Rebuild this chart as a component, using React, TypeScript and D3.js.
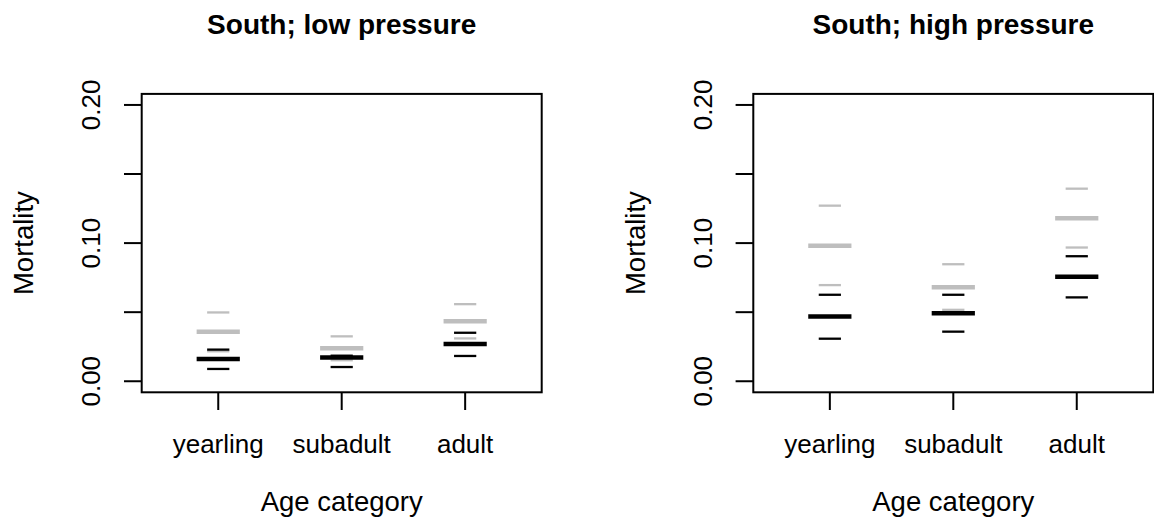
import React from "react";
import * as d3 from "d3";

const categories = ["yearling", "subadult", "adult"];
const panelTitles = ["South; low pressure", "South; high pressure"];
const yTicks = [0, 0.05, 0.1, 0.15, 0.2];
const yTickLabels = ["0.00", "", "0.10", "", "0.20"];

// low pressure
const lowGrayMid = [0.0359, 0.0238, 0.0435];
const lowGrayLo = [0.0217, 0.0152, 0.031];
const lowGrayHi = [0.0498, 0.0325, 0.0558];
const lowBlackMid = [0.0161, 0.0171, 0.027];
const lowBlackLo = [0.0089, 0.0103, 0.0183];
const lowBlackHi = [0.0229, 0.0185, 0.0351];

// high pressure
const highGrayMid = [0.098, 0.0681, 0.1179];
const highGrayLo = [0.0696, 0.0517, 0.0968];
const highGrayHi = [0.1271, 0.0847, 0.1394];
const highBlackMid = [0.0469, 0.0493, 0.0756];
const highBlackLo = [0.0308, 0.0359, 0.0607];
const highBlackHi = [0.0626, 0.0626, 0.0905];

const panels = [
  { title: panelTitles[0], grayMid: lowGrayMid, grayLo: lowGrayLo, grayHi: lowGrayHi, blackMid: lowBlackMid, blackLo: lowBlackLo, blackHi: lowBlackHi },
  { title: panelTitles[1], grayMid: highGrayMid, grayLo: highGrayLo, grayHi: highGrayHi, blackMid: highBlackMid, blackLo: highBlackLo, blackHi: highBlackHi },
];

const W = 1154;
const H = 530;
const boxLefts = [141.7, 753.3];
const boxW = 400;
const boxTop = 93.9;
const boxBottom = 392.3;
const FONT = "'Liberation Sans', Arial, Helvetica, sans-serif";
const GRAY = "#bebebe";

function Panel({ p, left }: { p: typeof panels[0]; left: number }) {
  const x = d3.scaleLinear().domain([0.38, 3.62]).range([left, left + boxW]);
  const y = d3.scaleLinear().domain([-0.008, 0.208]).range([boxBottom, boxTop]);
  const idx = categories.map((_, i) => i);
  const thickHalf = 0.175;
  const thinHalf = 0.09;
  const seg = (i: number, v: number, half: number, color: string, sw: number, key: string) => (
    <line key={key} x1={x(i + 1 - half)} x2={x(i + 1 + half)} y1={y(v)} y2={y(v)} stroke={color} strokeWidth={sw} />
  );
  const cx = left + boxW / 2;
  const cy = (boxTop + boxBottom) / 2;
  return (
    <g>
      <text x={cx} y={34} textAnchor="middle" fontWeight="bold" fontSize={28} fontFamily={FONT}>
        {p.title}
      </text>
      {/* gray series */}
      {idx.map((i) => seg(i, p.grayHi[i], thinHalf, GRAY, 2.3, "gh" + i))}
      {idx.map((i) => seg(i, p.grayLo[i], thinHalf, GRAY, 2.3, "gl" + i))}
      {idx.map((i) => seg(i, p.grayMid[i], thickHalf, GRAY, 4.5, "gm" + i))}
      {/* black series */}
      {idx.map((i) => seg(i, p.blackHi[i], thinHalf, "#000", 2.3, "bh" + i))}
      {idx.map((i) => seg(i, p.blackLo[i], thinHalf, "#000", 2.3, "bl" + i))}
      {idx.map((i) => seg(i, p.blackMid[i], thickHalf, "#000", 4.5, "bm" + i))}
      {/* box */}
      <rect x={left} y={boxTop} width={boxW} height={boxBottom - boxTop} fill="none" stroke="#000" strokeWidth={2} />
      {/* y axis */}
      {yTicks.map((t, i) => (
        <g key={"yt" + i}>
          <line x1={left - 17.7} x2={left} y1={y(t)} y2={y(t)} stroke="#000" strokeWidth={2} />
          {yTickLabels[i] && (
            <text
              transform={`translate(${left - 41.5},${y(t)}) rotate(-90)`}
              textAnchor="middle"
              fontSize={26}
              fontFamily={FONT}
            >
              {yTickLabels[i]}
            </text>
          )}
        </g>
      ))}
      {/* x axis */}
      {categories.map((c, i) => (
        <g key={"xt" + i}>
          <line x1={x(i + 1)} x2={x(i + 1)} y1={boxBottom} y2={boxBottom + 17.7} stroke="#000" strokeWidth={2} />
          <text x={x(i + 1)} y={453} textAnchor="middle" fontSize={26} fontFamily={FONT}>
            {c}
          </text>
        </g>
      ))}
      <text x={cx} y={511} textAnchor="middle" fontSize={27.5} fontFamily={FONT}>
        Age category
      </text>
      <text transform={`translate(${left - 108.5},${cy}) rotate(-90)`} textAnchor="middle" fontSize={27.5} fontFamily={FONT}>
        Mortality
      </text>
    </g>
  );
}

export default function App() {
  return (
    <svg width={W} height={H} style={{ position: "absolute", left: 0, top: 0, background: "#fff" }}>
      <rect width={W} height={H} fill="#fff" />
      {panels.map((p, i) => (
        <Panel key={i} p={p} left={boxLefts[i]} />
      ))}
    </svg>
  );
}
